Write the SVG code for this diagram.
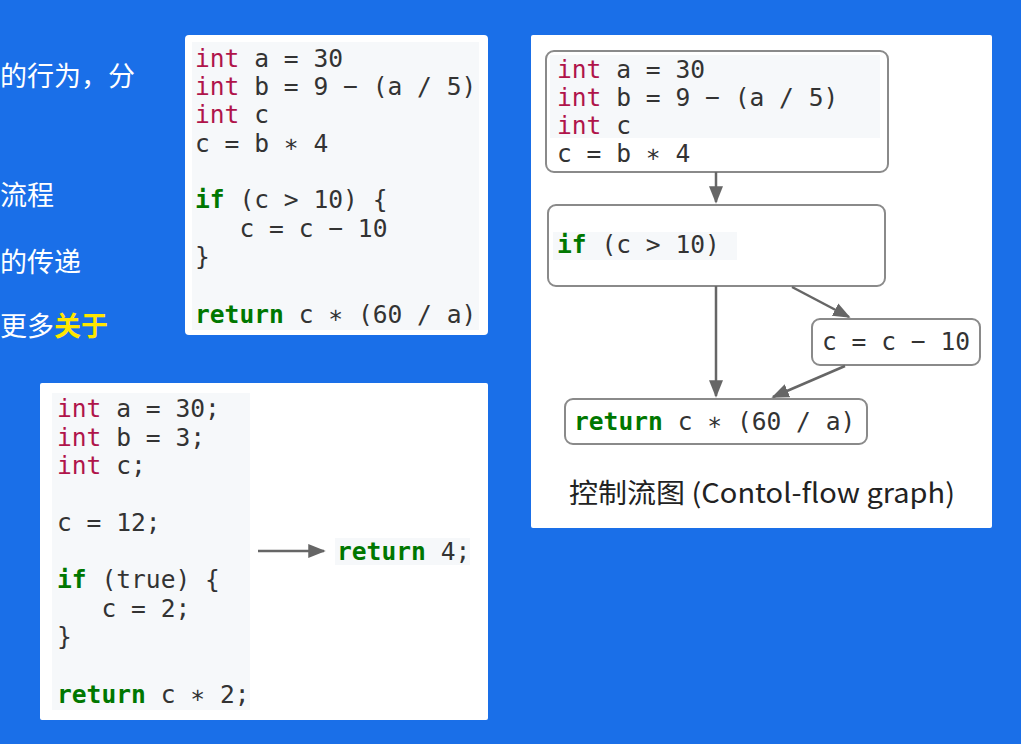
<svg xmlns="http://www.w3.org/2000/svg" width="1021" height="744" viewBox="0 0 1021 744">
<defs>
<marker id="ah" viewBox="0 0 10 10" refX="9" refY="5" markerWidth="7" markerHeight="7" orient="auto"><path d="M0,1 L10,5 L0,9 z" fill="#666"/></marker>
<style>
.cd{font-family:"DejaVu Sans Mono",monospace;font-size:24.6px;fill:#333;white-space:pre}
.kt{fill:#b0144a}
.kw{fill:#007700;font-weight:bold}
.zh{font-family:"Noto Sans CJK SC",sans-serif;font-size:27px;fill:#fff}
.panel{fill:#fff}
.bg{fill:#f6f8fa}
.nd{fill:#fff;stroke:#8a8a8a;stroke-width:2}
.ln{stroke:#666;stroke-width:2.5;fill:none;marker-end:url(#ah)}
</style>
</defs>
<rect width="1021" height="744" fill="#1a6fe8"/>
<g id="slide-text">
<text class="zh" x="0" y="86">的行为，分</text>
<text class="zh" x="0" y="205">流程</text>
<text class="zh" x="0" y="272">的传递</text>
<text class="zh" x="0" y="336">更多<tspan fill="#ffe600" font-weight="bold">关于</tspan></text>
</g>
<g id="code1">
<rect class="panel" x="185" y="35" width="303" height="300" rx="4"/>
<rect class="bg" x="192" y="42" width="287" height="288"/>
<text class="cd" x="195" y="67"><tspan class="kt">int</tspan> a = 30</text>
<text class="cd" x="195" y="95"><tspan class="kt">int</tspan> b = 9 − (a / 5)</text>
<text class="cd" x="195" y="123"><tspan class="kt">int</tspan> c</text>
<text class="cd" x="195" y="152">c = b ∗ 4</text>
<text class="cd" x="195" y="208"><tspan class="kw">if</tspan> (c &gt; 10) {</text>
<text class="cd" x="195" y="237">   c = c − 10</text>
<text class="cd" x="195" y="265">}</text>
<text class="cd" x="195" y="323"><tspan class="kw">return</tspan> c ∗ (60 / a)</text>
</g>
<g id="code2">
<rect class="panel" x="40" y="383" width="448" height="337" rx="2"/>
<rect class="bg" x="52" y="393" width="198" height="317"/>
<text class="cd" x="57" y="417"><tspan class="kt">int</tspan> a = 30;</text>
<text class="cd" x="57" y="446"><tspan class="kt">int</tspan> b = 3;</text>
<text class="cd" x="57" y="474"><tspan class="kt">int</tspan> c;</text>
<text class="cd" x="57" y="531">c = 12;</text>
<text class="cd" x="57" y="588"><tspan class="kw">if</tspan> (true) {</text>
<text class="cd" x="57" y="617">   c = 2;</text>
<text class="cd" x="57" y="645">}</text>
<text class="cd" x="57" y="703"><tspan class="kw">return</tspan> c ∗ 2;</text>
<rect class="bg" x="335" y="538" width="135" height="27"/>
<text class="cd" x="337" y="560"><tspan class="kw">return</tspan> 4;</text>
</g>
<g id="cfg">
<rect class="panel" x="531" y="35" width="461" height="493" rx="2"/>
<g id="n1"><rect class="nd" x="546" y="51" width="342" height="121" rx="8"/>
<rect class="bg" x="550" y="55" width="330" height="83"/>
<text class="cd" x="557" y="78"><tspan class="kt">int</tspan> a = 30</text>
<text class="cd" x="557" y="106"><tspan class="kt">int</tspan> b = 9 − (a / 5)</text>
<text class="cd" x="557" y="134"><tspan class="kt">int</tspan> c</text>
<text class="cd" x="557" y="162">c = b ∗ 4</text></g>
<g id="n2"><rect class="nd" x="548" y="205" width="337" height="81" rx="8"/>
<rect class="bg" x="553" y="232" width="184" height="28"/>
<text class="cd" x="557" y="253"><tspan class="kw">if</tspan> (c &gt; 10)</text></g>
<g id="n3"><rect class="nd" x="812" y="319" width="168" height="46" rx="8"/>
<text class="cd" x="822" y="350">c = c − 10</text></g>
<g id="n4"><rect class="nd" x="565" y="399" width="302" height="45" rx="8"/>
<text class="cd" x="574" y="430"><tspan class="kw">return</tspan> c ∗ (60 / a)</text></g>
<text x="762" y="503" text-anchor="middle" font-family="'Noto Sans CJK SC',sans-serif" font-size="27" fill="#222" textLength="386" lengthAdjust="spacingAndGlyphs">控制流图 (Contol-flow graph)</text>
</g>
<g id="connectors">
<line class="ln" x1="258" y1="551" x2="324" y2="551"/>
<line class="ln" x1="716" y1="172" x2="716" y2="202"/>
<line class="ln" x1="716" y1="286" x2="716" y2="396"/>
<line class="ln" x1="792" y1="287" x2="849" y2="317"/>
<line class="ln" x1="845" y1="366" x2="773" y2="397"/>
</g>
</svg>
